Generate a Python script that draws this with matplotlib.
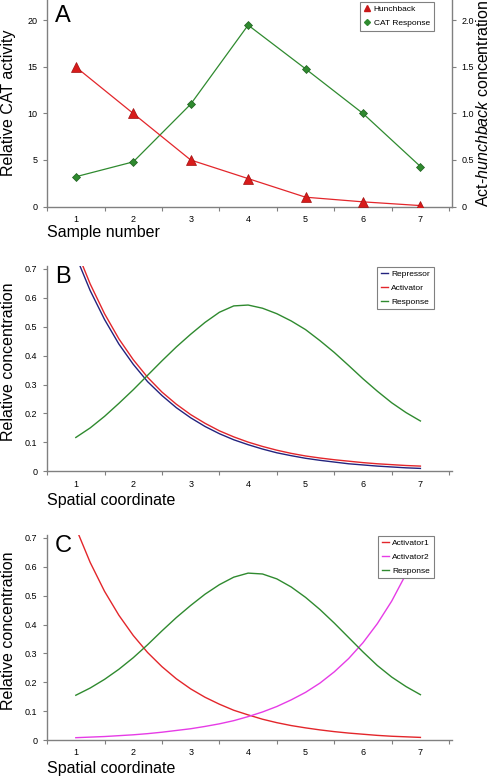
import matplotlib
matplotlib.use("Agg")
import matplotlib.pyplot as plt
from matplotlib.lines import Line2D
from matplotlib.ticker import FixedLocator

plt.rcParams['font.family'] = ['Liberation Sans', 'DejaVu Sans']
plt.rcParams['mathtext.fontset'] = 'custom'
plt.rcParams['mathtext.rm'] = 'Liberation Sans'
plt.rcParams['mathtext.it'] = 'Liberation Sans:italic'

# --- panel A data ---
samples = [1, 2, 3, 4, 5, 6, 7]
cat_response = [3.2, 4.8, 11.0, 19.5, 14.8, 10.0, 4.3]      # left axis
hunchback = [1.5, 1.0, 0.5, 0.3, 0.1, 0.05, 0.01]           # right axis

coord = [1.0, 1.25, 1.5, 1.75, 2.0, 2.25, 2.5, 2.75, 3.0, 3.25, 3.5, 3.75, 4.0,
         4.25, 4.5, 4.75, 5.0, 5.25, 5.5, 5.75, 6.0, 6.25, 6.5, 6.75, 7.0]

b_repressor = [0.745, 0.625, 0.525, 0.440, 0.370, 0.310, 0.262, 0.220, 0.185,
               0.155, 0.130, 0.109, 0.092, 0.077, 0.064, 0.054, 0.045, 0.038,
               0.032, 0.026, 0.022, 0.018, 0.015, 0.012, 0.010]
b_activator = [0.770, 0.648, 0.545, 0.458, 0.386, 0.325, 0.274, 0.232, 0.196,
               0.166, 0.140, 0.119, 0.101, 0.086, 0.073, 0.062, 0.053, 0.046,
               0.040, 0.035, 0.030, 0.026, 0.023, 0.020, 0.018]
b_response = [0.117, 0.150, 0.190, 0.235, 0.282, 0.332, 0.382, 0.430, 0.474,
              0.515, 0.550, 0.572, 0.575, 0.564, 0.545, 0.520, 0.490, 0.452,
              0.411, 0.366, 0.320, 0.277, 0.237, 0.203, 0.174]

c_activator1 = [0.735, 0.615, 0.515, 0.432, 0.362, 0.303, 0.254, 0.212, 0.177,
                0.148, 0.124, 0.103, 0.087, 0.072, 0.060, 0.050, 0.042, 0.035,
                0.029, 0.024, 0.020, 0.016, 0.013, 0.011, 0.009]
c_activator2 = [0.008, 0.010, 0.012, 0.015, 0.018, 0.022, 0.027, 0.033, 0.039,
                0.047, 0.056, 0.067, 0.081, 0.097, 0.116, 0.139, 0.165, 0.197,
                0.236, 0.282, 0.337, 0.403, 0.481, 0.575, 0.687]
c_response = [0.155, 0.180, 0.210, 0.245, 0.285, 0.330, 0.378, 0.424, 0.466,
              0.505, 0.538, 0.564, 0.578, 0.575, 0.558, 0.530, 0.494, 0.452,
              0.405, 0.355, 0.305, 0.258, 0.218, 0.185, 0.157]

GRAY = '#808080'
RED = '#e3262b'
GREEN = '#2f8a2f'
BLUE = '#23237e'
MAGENTA = '#e63ce6'

W, H = 492, 778
fig = plt.figure(figsize=(W / 100, H / 100), dpi=100)


def px_axes(left, right, top, bottom):
    return fig.add_axes([left / W, 1 - bottom / H, (right - left) / W, (bottom - top) / H])


def style(ax, right_spine=False):
    ax.set_xlim(0.5, 7.55)
    ax.xaxis.set_major_locator(FixedLocator(samples))
    ax.xaxis.set_minor_locator(FixedLocator([0.5, 1.5, 2.5, 3.5, 4.5, 5.5, 6.5, 7.5]))
    ax.tick_params(axis='x', which='major', length=0, pad=6, labelsize=6.5)
    ax.tick_params(axis='x', which='minor', length=3, width=0.8, color=GRAY, direction='out')
    ax.tick_params(axis='y', length=3, width=0.8, color=GRAY, direction='out', labelsize=6.5, pad=4)
    ax.spines['top'].set_visible(False)
    ax.spines['right'].set_visible(right_spine)
    for s in ['left', 'bottom', 'right']:
        ax.spines[s].set_color(GRAY)
        ax.spines[s].set_linewidth(1)


def legend(ax, handles, labels, top):
    leg = ax.legend(handles, labels, loc='upper right',
                    bbox_to_anchor=(433.5 / W, 1 - top / H), bbox_transform=fig.transFigure,
                    fontsize=6, fancybox=False, edgecolor=GRAY, framealpha=1,
                    handlelength=0.8, handletextpad=0.4, borderpad=0.45,
                    labelspacing=0.7, borderaxespad=0)
    leg.get_frame().set_linewidth(0.8)
    leg.set_zorder(10)


# ---------------- A ----------------
axA = px_axes(47.1, 452, 0, 206.5)
style(axA, right_spine=True)
axA.set_ylim(0, 22.2)
axA.set_yticks([0, 5, 10, 15, 20])
axA.plot(samples, cat_response, color=GREEN, lw=0.9, marker='D', markersize=4.5,
         markerfacecolor=GREEN, markeredgecolor='#1d5e1d', markeredgewidth=0.5)
axA2 = axA.twinx()
axA2.set_ylim(0, 2.22)
axA2.set_yticks([0, 0.5, 1.0, 1.5, 2.0])
axA2.set_yticklabels(['0', '0.5', '1.0', '1.5', '2.0'])
axA2.tick_params(axis='y', length=3, width=0.8, color=GRAY, direction='out', labelsize=6.5, pad=4)
for s in axA2.spines.values():
    s.set_visible(False)
axA2.plot(samples, hunchback, color=RED, lw=0.9, marker='^', markersize=6.5,
          markerfacecolor='#d81b1b', markeredgecolor='#a01010', markeredgewidth=0.5)
hA = [Line2D([], [], ls='none', marker='^', markersize=4, color='#c81818'),
      Line2D([], [], ls='none', marker='D', markersize=3, color=GREEN)]
legend(axA2, hA, ['Hunchback', 'CAT Response'], 1.5)

fig.text(9 / W, 1 - 103 / H, 'Relative CAT activity', rotation=90, ha='center', va='center', fontsize=11.5)
fig.text(483 / W, 1 - 103 / H, r'Act-$\it{hunchback}$ concentration', rotation=90,
         ha='center', va='center', fontsize=11.5)
fig.text(47 / W, 1 - 232 / H, 'Sample number', ha='left', va='center', fontsize=11.5)
fig.text(55 / W, 1 - 5 / H, 'A', ha='left', va='top', fontsize=17)

# ---------------- B ----------------
axB = px_axes(47.1, 452, 266, 471.3)
style(axB)
axB.set_ylim(0, 0.71)
axB.set_yticks([0, 0.1, 0.2, 0.3, 0.4, 0.5, 0.6, 0.7])
axB.set_yticklabels(['0', '0.1', '0.2', '0.3', '0.4', '0.5', '0.6', '0.7'])
lb1, = axB.plot(coord, b_repressor, color=BLUE, lw=1)
lb2, = axB.plot(coord, b_activator, color=RED, lw=1)
lb3, = axB.plot(coord, b_response, color=GREEN, lw=1)
legend(axB, [lb1, lb2, lb3], ['Repressor', 'Activator', 'Response'], 266.7)
fig.text(9 / W, 1 - 362 / H, 'Relative concentration', rotation=90, ha='center', va='center', fontsize=11.5)
fig.text(47 / W, 1 - 500 / H, 'Spatial coordinate', ha='left', va='center', fontsize=11.5)
fig.text(55 / W, 1 - 266 / H, 'B', ha='left', va='top', fontsize=17)

# ---------------- C ----------------
axC = px_axes(47.1, 452, 535, 740)
style(axC)
axC.set_ylim(0, 0.71)
axC.set_yticks([0, 0.1, 0.2, 0.3, 0.4, 0.5, 0.6, 0.7])
axC.set_yticklabels(['0', '0.1', '0.2', '0.3', '0.4', '0.5', '0.6', '0.7'])
lc1, = axC.plot(coord, c_activator1, color=RED, lw=1)
lc2, = axC.plot(coord, c_activator2, color=MAGENTA, lw=1)
lc3, = axC.plot(coord, c_response, color=GREEN, lw=1)
legend(axC, [lc1, lc2, lc3], ['Activator1', 'Activator2', 'Response'], 535.7)
fig.text(9 / W, 1 - 631 / H, 'Relative concentration', rotation=90, ha='center', va='center', fontsize=11.5)
fig.text(47 / W, 1 - 768 / H, 'Spatial coordinate', ha='left', va='center', fontsize=11.5)
fig.text(55 / W, 1 - 535 / H, 'C', ha='left', va='top', fontsize=17)

fig.savefig('out.png', dpi=100)
